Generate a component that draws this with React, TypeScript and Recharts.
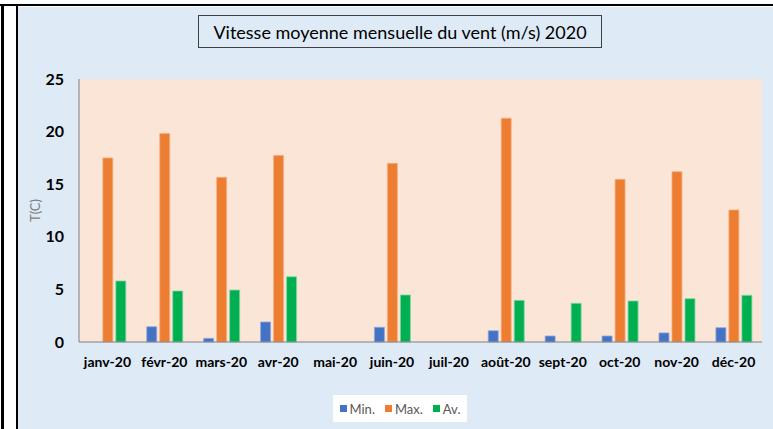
import React from "react";
import { BarChart, Bar, XAxis, YAxis, CartesianGrid, Legend } from "recharts";

const months = [
  "janv-20", "févr-20", "mars-20", "avr-20", "mai-20", "juin-20",
  "juil-20", "août-20", "sept-20", "oct-20", "nov-20", "déc-20",
];
const minValues = [0, 1.45, 0.35, 1.9, 0, 1.4, 0, 1.07, 0.57, 0.57, 0.86, 1.36];
const maxValues = [17.5, 19.83, 15.65, 17.74, 0, 16.98, 0, 21.28, 0, 15.46, 16.19, 12.55];
const avValues = [5.8, 4.85, 4.94, 6.2, 0, 4.47, 0, 3.96, 3.68, 3.9, 4.12, 4.44];
const yTicks = [0, 5, 10, 15, 20, 25];

const data = months.map((m, i) => ({
  month: m,
  min: minValues[i],
  max: maxValues[i],
  av: avValues[i],
}));

const FONT = "Lato, 'Open Sans', sans-serif";

const legendItems = [
  { label: "Min.", color: "#4472C4" },
  { label: "Max.", color: "#ED7D31" },
  { label: "Av.", color: "#00B050" },
];

const LegendBox = () => (
  <div
    style={{
      background: "#fff",
      width: 134,
      height: 27,
      display: "flex",
      alignItems: "center",
      justifyContent: "center",
      gap: 10,
      fontFamily: FONT,
      fontSize: 13,
      color: "#595959",
    }}
  >
    {legendItems.map((it) => (
      <span key={it.label} style={{ display: "flex", alignItems: "center" }}>
        <span style={{ width: 7, height: 7, background: it.color, marginRight: 3 }} />
        {it.label}
      </span>
    ))}
  </div>
);

const App = () => {
  return (
    <div style={{ position: "fixed", left: 0, top: 0, width: 773, height: 429, background: "#fff", overflow: "hidden" }}>
      {/* frame lines */}
      <div style={{ position: "absolute", left: 0, top: 4, width: 773, height: 2, background: "#000" }} />
      <div style={{ position: "absolute", left: 1, top: 4, width: 3, height: 425, background: "#000" }} />
      <div style={{ position: "absolute", left: 16, top: 6, width: 2, height: 423, background: "#000" }} />
      <div style={{ position: "absolute", left: 18, top: 7, width: 755, height: 422, background: "#DEEAF6" }}>
        <div
          style={{
            position: "absolute",
            left: 180,
            top: 8,
            width: 404,
            height: 33,
            border: "1px solid #404040",
            boxSizing: "border-box",
            display: "flex",
            alignItems: "center",
            justifyContent: "center",
            fontFamily: FONT,
            fontSize: 18,
            color: "#000",
          }}
        >
          Vitesse moyenne mensuelle du vent (m/s) 2020
        </div>
        <BarChart
          width={755}
          height={422}
          data={data}
          margin={{ top: 72, right: 11, left: 0, bottom: 30 }}
          barCategoryGap="19%"
          barGap={3}
        >
          <CartesianGrid fill="#FBE5D6" horizontal={false} vertical={false} />
          <XAxis
            dataKey="month"
            tickLine={false}
            tickSize={0}
            tickMargin={15}
            height={30}
            stroke="#808080"
            tick={{ fill: "#000", fontFamily: FONT, fontSize: 14, fontWeight: 700 }}
            interval={0}
          />
          <YAxis
            domain={[0, 25]}
            ticks={yTicks}
            width={61}
            tickLine={false}
            tickSize={0}
            tickMargin={15}
            stroke="#808080"
            tick={{ fill: "#000", fontFamily: FONT, fontSize: 16, fontWeight: 700 }}
            label={{
              value: "T(C)",
              angle: -90,
              position: "insideLeft",
              offset: 17,
              style: { fill: "#808080", fontFamily: FONT, fontSize: 13, textAnchor: "middle" },
            }}
          />
          <Legend
            verticalAlign="bottom"
            content={() => <LegendBox />}
            wrapperStyle={{ left: 315, top: 388, width: 134, height: 27 }}
          />
          <Bar dataKey="min" name="Min." fill="#4472C4" stroke="#8FAADC" strokeWidth={0.8} isAnimationActive={false} />
          <Bar dataKey="max" name="Max." fill="#ED7D31" stroke="#F4B183" strokeWidth={0.8} isAnimationActive={false} />
          <Bar dataKey="av" name="Av." fill="#00B050" stroke="#7FD7A7" strokeWidth={0.8} isAnimationActive={false} />
        </BarChart>
      </div>
    </div>
  );
};

export default App;
